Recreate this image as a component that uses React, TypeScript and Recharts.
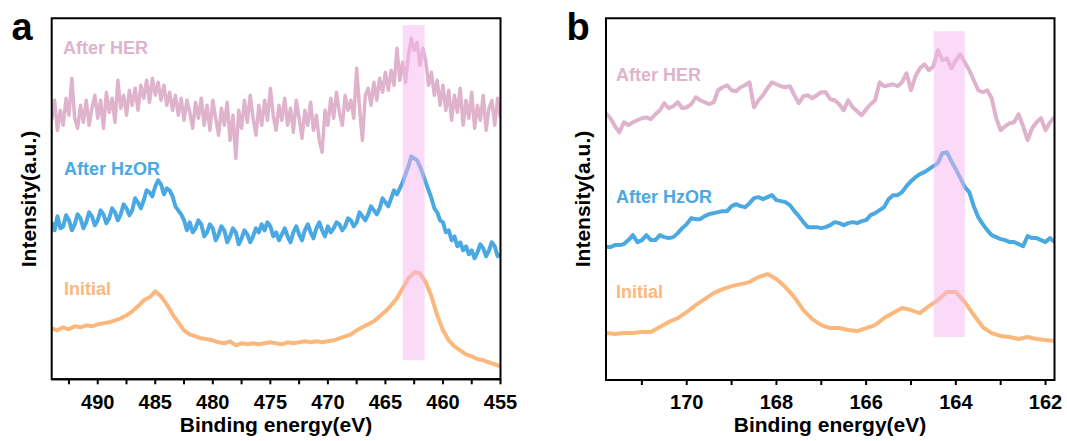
import { LineChart, Line, XAxis, YAxis, ReferenceArea } from "recharts";

const PINK = "#e0b3cd";
const BLUE = "#4aa8e3";
const ORANGE = "#fbb87d";
const BAND = "#f5b5ee";
const FONT = "'Liberation Sans', Arial, sans-serif";

// panel a (binding energy, eV) - noisy scans on a 0.25 eV grid
const energyAFine = [
  494, 493.75, 493.5, 493.25, 493, 492.75, 492.5, 492.25, 492, 491.75, 491.5, 491.25,
  491, 490.75, 490.5, 490.25, 490, 489.75, 489.5, 489.25, 489, 488.75, 488.5, 488.25,
  488, 487.75, 487.5, 487.25, 487, 486.75, 486.5, 486.25, 486, 485.75, 485.5, 485.25,
  485, 484.75, 484.5, 484.25, 484, 483.75, 483.5, 483.25, 483, 482.75, 482.5, 482.25,
  482, 481.75, 481.5, 481.25, 481, 480.75, 480.5, 480.25, 480, 479.75, 479.5, 479.25,
  479, 478.75, 478.5, 478.25, 478, 477.75, 477.5, 477.25, 477, 476.75, 476.5, 476.25,
  476, 475.75, 475.5, 475.25, 475, 474.75, 474.5, 474.25, 474, 473.75, 473.5, 473.25,
  473, 472.75, 472.5, 472.25, 472, 471.75, 471.5, 471.25, 471, 470.75, 470.5, 470.25,
  470, 469.75, 469.5, 469.25, 469, 468.75, 468.5, 468.25, 468, 467.75, 467.5, 467.25,
  467, 466.75, 466.5, 466.25, 466, 465.75, 465.5, 465.25, 465, 464.75, 464.5, 464.25,
  464, 463.75, 463.5, 463.25, 463, 462.75, 462.5, 462.25, 462, 461.75, 461.5, 461.25,
  461, 460.75, 460.5, 460.25, 460, 459.75, 459.5, 459.25, 459, 458.75, 458.5, 458.25,
  458, 457.75, 457.5, 457.25, 457, 456.75, 456.5, 456.25, 456, 455.75, 455.5, 455.25,
  455,
];
const herA = [
  260, 280, 250, 270, 255, 282, 265, 302, 262, 252, 275, 258,
  280, 255, 272, 285, 262, 280, 252, 288, 268, 282, 258, 300,
  272, 285, 265, 290, 275, 292, 270, 295, 282, 300, 278, 302,
  285, 298, 280, 295, 275, 288, 270, 285, 265, 282, 260, 280,
  268, 252, 278, 262, 282, 255, 275, 250, 280, 262, 245, 272,
  255, 278, 240, 265, 222, 270, 252, 280, 258, 285, 262, 245,
  275, 255, 280, 260, 292, 265, 250, 275, 260, 282, 255, 272,
  248, 280, 262, 242, 270, 255, 278, 250, 265, 240, 228, 270,
  255, 282, 262, 288, 268, 255, 285, 270, 280, 262, 312, 272,
  240, 285, 292, 275, 298, 280, 302, 288, 308, 290, 310, 295,
  332, 300, 318, 298, 325, 342, 330, 338, 315, 332, 320, 295,
  308, 285, 300, 275, 295, 270, 290, 260, 285, 268, 292, 255,
  280, 262, 288, 252, 275, 260, 285, 250, 272, 280, 255, 282,
  262,
];
const hzorA = [
  158, 150, 164, 152, 154, 165, 160, 150, 156, 166, 162, 152,
  158, 168, 164, 155, 160, 170, 166, 157, 162, 172, 168, 160,
  166, 176, 172, 165, 170, 182, 178, 172, 180, 190, 188, 184,
  194, 200, 196, 186, 192, 190, 184, 174, 170, 166, 160, 150,
  158, 148, 152, 160, 156, 144, 148, 156, 152, 140, 146, 154,
  150, 138, 144, 152, 148, 136, 142, 150, 146, 138, 144, 152,
  148, 156, 150, 158, 154, 144, 148, 140, 146, 152, 144, 138,
  148, 154, 146, 140, 150, 156, 148, 142, 152, 158, 150, 144,
  154, 148, 152, 158, 156, 150, 154, 162, 160, 154, 158, 168,
  164, 160, 166, 174, 170, 166, 172, 182, 178, 174, 182, 190,
  186, 192, 198, 206, 214, 224, 222, 220, 214, 206, 198, 190,
  182, 172, 168, 160, 158, 148, 150, 140, 144, 134, 138, 130,
  134, 126, 130, 122, 128, 136, 132, 124, 130, 138, 134, 124,
  126,
];
const energyA = [
  494, 493.5, 493, 492.5, 492, 491.5, 491, 490.5, 490, 489.5, 489, 488.5, 488, 487.5, 487, 486.5,
  486, 485.5, 485, 484.5, 484, 483.5, 483, 482.5, 482, 481.5, 481, 480.5, 480, 479.5, 479, 478.5,
  478, 477.5, 477, 476.5, 476, 475.5, 475, 474.5, 474, 473.5, 473, 472.5, 472, 471.5, 471, 470.5,
  470, 469.5, 469, 468.5, 468, 467.5, 467, 466.5, 466, 465.5, 465, 464.5, 464, 463.5, 463, 462.5,
  462, 461.5, 461, 460.5, 460, 459.5, 459, 458.5, 458, 457.5, 457, 456.5, 456, 455.5, 455,
];
const initA = [
  52, 50, 53, 51, 54, 53, 55, 54, 56, 57, 58, 60, 62, 65, 69, 74,
  80, 83, 89, 84, 76, 66, 58, 50, 46, 44, 42, 41, 40, 38, 37, 39,
  35, 37, 36, 37, 36, 37, 38, 37, 36, 38, 37, 38, 39, 38, 39, 38,
  39, 40, 42, 44, 46, 50, 53, 56, 59, 64, 69, 75, 82, 92, 102, 108,
  107, 98, 84, 65, 50, 40, 34, 30, 26, 24, 21, 20, 18, 16, 14,
];
const ticksA = [492.5, 490, 487.5, 485, 482.5, 480, 477.5, 475, 472.5, 470, 467.5, 465, 462.5, 460, 457.5, 455];

// panel b
const energyB = [
  171.8, 171.7, 171.6, 171.5, 171.4, 171.3, 171.2, 171.1, 171.0, 170.9, 170.8, 170.7, 170.6, 170.5,
  170.4, 170.3, 170.2, 170.1, 170.0, 169.9, 169.8, 169.7, 169.6, 169.5, 169.4, 169.3, 169.2, 169.1,
  169.0, 168.9, 168.8, 168.7, 168.6, 168.5, 168.4, 168.3, 168.2, 168.1, 168.0, 167.9, 167.8, 167.7,
  167.6, 167.5, 167.4, 167.3, 167.2, 167.1, 167.0, 166.9, 166.8, 166.7, 166.6, 166.5, 166.4, 166.3,
  166.2, 166.1, 166.0, 165.9, 165.8, 165.7, 165.6, 165.5, 165.4, 165.3, 165.2, 165.1, 165.0, 164.9,
  164.8, 164.7, 164.6, 164.5, 164.4, 164.3, 164.2, 164.1, 164.0, 163.9, 163.8, 163.7, 163.6, 163.5,
  163.4, 163.3, 163.2, 163.1, 163.0, 162.9, 162.8, 162.7, 162.6, 162.5, 162.4, 162.3, 162.2, 162.1,
  162.0, 161.9, 161.8,
];
const herB = [
  267, 262, 254, 248, 258, 255, 258, 260, 262, 263, 261, 266, 270, 277,
  272, 274, 278, 272, 273, 276, 283, 280, 278, 276, 278, 290, 293, 295,
  290, 289, 293, 295, 298, 273, 280, 285, 292, 298, 296, 294, 293, 294,
  285, 277, 284, 285, 282, 285, 288, 288, 281, 280, 276, 270, 280, 273,
  269, 265, 271, 276, 280, 298, 294, 295, 296, 294, 298, 307, 290, 304,
  312, 316, 310, 314, 330, 320, 322, 312, 320, 326, 318, 310, 300, 290,
  288, 290, 282, 262, 250, 254, 257, 258, 266, 254, 240, 252, 258, 262,
  250, 258, 263,
];
const hzorB = [
  133, 133, 135, 135, 136, 140, 145, 138, 140, 145, 140, 140, 145, 143,
  142, 143, 147, 152, 156, 162, 161, 161, 164, 166, 167, 168, 169, 169,
  174, 176, 174, 173, 177, 182, 183, 181, 183, 185, 180, 179, 178, 175,
  169, 164, 158, 153, 153, 153, 152, 153, 155, 158, 157, 155, 157, 158,
  157, 159, 160, 165, 167, 170, 173, 181, 185, 185, 188, 194, 199, 203,
  206, 208, 211, 214, 217, 227, 228, 219, 211, 202, 193, 188, 174, 163,
  156, 150, 145, 143, 141, 140, 138, 138, 136, 134, 144, 142, 142, 140,
  138, 142, 138,
];
const energyBInit = [
  171.8, 171.6, 171.4, 171.2, 171.0, 170.8, 170.6, 170.4, 170.2, 170.0, 169.8, 169.6, 169.4,
  169.2, 169.0, 168.8, 168.6, 168.4, 168.2, 168.0, 167.8, 167.6, 167.4, 167.2, 167.0, 166.8,
  166.6, 166.4, 166.2, 166.0, 165.8, 165.6, 165.4, 165.2, 165.0, 164.8, 164.6, 164.4, 164.2,
  164.0, 163.8, 163.6, 163.4, 163.2, 163.0, 162.8, 162.6, 162.4, 162.2, 162.0, 161.8,
];
const initB = [
  47, 46, 47, 47, 48, 48, 53, 58, 62, 68, 75, 81, 87,
  91, 94, 96, 98, 103, 106, 101, 93, 83, 70, 61, 55, 52,
  52, 50, 49, 52, 55, 62, 67, 72, 70, 67, 74, 80, 88,
  88, 78, 65, 53, 47, 44, 43, 41, 43, 41, 40, 39,
];
const ticksB = [171, 170, 169, 168, 167, 166, 165, 164, 163, 162];

const rows = (xs: number[], ys: number[]) => xs.map((e, i) => ({ e, v: ys[i] }));

const tickStyle = { fill: "#000", fontSize: 20, fontWeight: 700, fontFamily: FONT };

interface PanelProps {
  left: number;
  width: number;
  margin: { top: number; left: number; right: number; bottom: number };
  domain: [number, number];
  yDomain: [number, number];
  ticks: number[];
  major: (v: number) => boolean;
  series: { data: { e: number; v: number }[]; color: string; width: number }[];
  band: [number, number, number, number];
}

function Panel({ left, width, margin, domain, yDomain, ticks, major, series, band }: PanelProps) {
  return (
    <div style={{ position: "absolute", left, top: 0 }}>
      <LineChart width={width} height={441} margin={margin}>
        <XAxis
          dataKey="e"
          type="number"
          domain={domain}
          reversed
          allowDataOverflow
          ticks={ticks}
          interval={0}
          tickFormatter={(v: number) => (major(v) ? String(v) : "")}
          tick={tickStyle}
          tickSize={5}
          tickMargin={10}
          height={30}
          axisLine={{ stroke: "#000", strokeWidth: 2 }}
          tickLine={{ stroke: "#000", strokeWidth: 2 }}
        />
        <YAxis hide type="number" domain={yDomain} allowDataOverflow />
        {series.map((s, i) => (
          <Line
            key={i}
            data={s.data}
            dataKey="v"
            type="linear"
            stroke={s.color}
            strokeWidth={s.width}
            strokeLinejoin="round"
            dot={false}
            activeDot={false}
            isAnimationActive={false}
          />
        ))}
        <ReferenceArea
          x1={band[0]}
          x2={band[1]}
          y1={band[2]}
          y2={band[3]}
          fill={BAND}
          fillOpacity={0.5}
          stroke="none"
          zIndex={450}
        />
        <ReferenceArea
          x1={domain[0]}
          x2={domain[1]}
          y1={yDomain[0]}
          y2={yDomain[1]}
          fill="none"
          stroke="#000"
          strokeWidth={2}
          ifOverflow="visible"
          zIndex={460}
        />
      </LineChart>
    </div>
  );
}

const textBold = { fontFamily: FONT, fontWeight: 700 } as const;

export default function App() {
  return (
    <div style={{ position: "absolute", left: 0, top: 0, width: 1067, height: 441, background: "#fff" }}>
      <Panel
        left={0}
        width={520}
        margin={{ top: 18.3, left: 51.7, right: 19.5, bottom: 31.7 }}
        domain={[455, 494]}
        yDomain={[1, 362]}
        ticks={ticksA}
        major={(v) => v % 5 === 0}
        series={[
          { data: rows(energyAFine, herA), color: PINK, width: 3.5 },
          { data: rows(energyAFine, hzorA), color: BLUE, width: 4 },
          { data: rows(energyA, initA), color: ORANGE, width: 4 },
        ]}
        band={[461.6, 463.5, 20, 355]}
      />
      <Panel
        left={540}
        width={527}
        margin={{ top: 18.3, left: 66, right: 12.5, bottom: 31 }}
        domain={[161.8, 171.8]}
        yDomain={[0, 362]}
        ticks={ticksB}
        major={(v) => v % 2 === 0}
        series={[
          { data: rows(energyB, herB), color: PINK, width: 4 },
          { data: rows(energyB, hzorB), color: BLUE, width: 4 },
          { data: rows(energyBInit, initB), color: ORANGE, width: 4 },
        ]}
        band={[163.8, 164.49, 43, 349]}
      />
      <svg
        width={1067}
        height={441}
        style={{ position: "absolute", left: 0, top: 0, pointerEvents: "none" }}
      >
        <text x={22} y={40} textAnchor="middle" fontSize={38} style={textBold}>a</text>
        <text x={578} y={40} textAnchor="middle" fontSize={38} style={textBold}>b</text>

        <text x={276} y={432} textAnchor="middle" fontSize={21} style={textBold}>Binding energy(eV)</text>
        <text x={830} y={432} textAnchor="middle" fontSize={21} style={textBold}>Binding energy(eV)</text>

        <text transform="translate(36,199) rotate(-90)" textAnchor="middle" fontSize={21} style={textBold}>
          Intensity(a.u.)
        </text>
        <text transform="translate(590,199) rotate(-90)" textAnchor="middle" fontSize={21} style={textBold}>
          Intensity(a.u.)
        </text>

        <text x={63} y={54} fontSize={18} fill={PINK} style={textBold}>After HER</text>
        <text x={64} y={175} fontSize={18} fill={BLUE} style={textBold}>After HzOR</text>
        <text x={64} y={295} fontSize={18} fill={ORANGE} style={textBold}>Initial</text>

        <text x={616} y={81} fontSize={18} fill={PINK} style={textBold}>After HER</text>
        <text x={616} y={203} fontSize={18} fill={BLUE} style={textBold}>After HzOR</text>
        <text x={616} y={298} fontSize={18} fill={ORANGE} style={textBold}>Initial</text>
      </svg>
    </div>
  );
}
